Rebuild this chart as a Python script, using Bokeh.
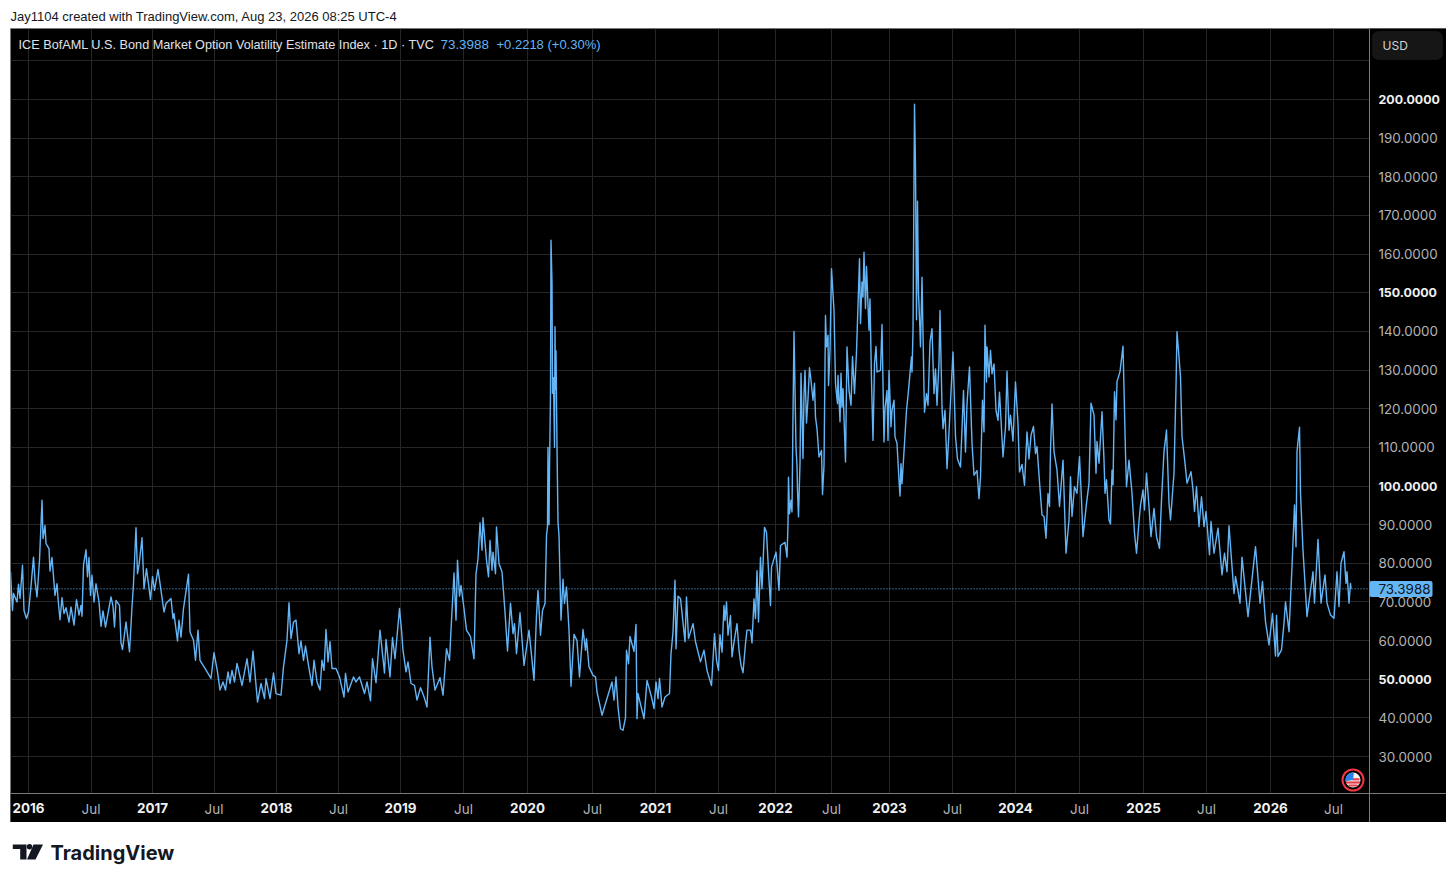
from bokeh.plotting import figure
from bokeh.layouts import column
from bokeh.models import (Range1d, FixedTicker, Span, Label, BoxAnnotation, LinearAxis,
                          PrintfTickFormatter)
from bokeh.core.properties import value
from bokeh.embed import file_html
from bokeh.resources import INLINE

# ---- data: bar number since the first session of 2016, and index level ----
bars_2016 = [-36,-32,-30,-23,-20,-17,-12,-9,-4,0,5,10,13,17,22,27,29,33,35,41,43,47,53,57,59,63,67,71,75,81,85,91,96,101,105,107,110,115,118,121,124,127,131,135,141,145,149,154,165,169,172,175,182,185,188,195,202,207,210,215,218,221,227,231,236,244,248]
vals_2016 = [77.8,67.8,72.2,70,74.6,70.9,79.5,67.8,65.7,67.4,74,81.6,75.6,71.3,80.8,96.3,86.4,89.8,85.1,83.8,78,81.5,71.7,74.7,70.9,65.4,71.1,67,68.5,64.8,68.7,64,70.6,66.6,69.1,66.3,79.5,83.5,76.5,81.5,71.7,76.9,70,74.7,70,63.7,67.7,63.5,71.3,68.9,63.5,70.4,69.1,59.4,57.7,64.8,57.1,68.7,74.7,89.2,77.3,79.5,86.6,73.4,78.6,70.6,76.6]
bars_2017 = [252,259,265,271,275,285,289,291,298,301,305,310,320,323,330,334,339,343,353,365,371,378,383,389,394,399,403,407,412,417,427,437,443,449,458,465,472,475,483,490,495]
vals_2017 = [73,78.4,73,67.4,69.6,70.9,65.7,67,59.9,65.3,60.9,68.3,77.2,62.2,60.1,54.9,62.7,54.9,52.8,50.2,56.9,51.9,47.2,49.3,47.2,51.9,48.9,52.3,49.3,54.1,48.4,55.3,49.3,57.3,44.1,48.9,45,50.2,45,51.6,46.3]
bars_2018 = [505,510,517,521,525,530,535,541,545,550,554,560,567,571,577,583,587,591,595,599,603,607,615,622,631,634,639,650,655,662,672,677,684,688,695,703,712,715,723,728,733,742]
vals_2018 = [45.9,53.2,60.1,69.8,60.5,64.8,65.3,56.6,59.9,54.9,58.6,53.6,48.4,54.9,49.3,47.2,54.9,52.3,62.9,54.5,59.7,52.8,52.8,50.6,45.4,51.5,46.7,50.6,49.3,50.6,46.3,49.3,44.4,55.3,49.1,62.7,51.6,60.3,50.6,60.8,55.3,68.3]
bars_2019 = [746,749,755,759,765,772,777,784,791,797,803,807,813,823,829,836,842,845,851,855,858,862,865,871,876,884,891,895,899,903,907,909,916,920,923,927,929,934,936,941,947,953,958,964,969,972,976,983,991]
vals_2019 = [62.7,57.5,51.9,54.5,48.9,48.4,44.6,47.8,45.5,42.8,60.9,53.2,47.2,50.4,45.9,57.9,54.9,62.7,77.5,65.3,80.8,71.5,74.3,68.3,62.7,61,55.3,77.3,81.2,90.5,83.4,91.8,80.8,76.5,85.9,78.2,82.9,77.3,89.4,79.9,77.8,67.4,57.3,69.7,61.8,64.4,56.6,67.2,53.6]
bars_2020 = [1001,1011,1016,1019,1024,1028,1033,1036,1038,1039,1041,1042,1044,1045,1047,1048,1050,1052,1053,1054,1055,1057,1059,1061,1065,1069,1072,1076,1081,1085,1091,1097,1102,1109,1114,1116,1121,1129,1134,1137,1147,1157,1167,1171,1175,1179,1184,1189,1194,1196,1200,1203,1211,1215,1217,1219,1231,1237,1246,1251]
vals_2020 = [62.7,49.7,66.6,73,61.4,67.8,69.6,87.2,89.5,110,90,104,124,163.6,152.5,124,128,110,141.2,125,135,110,90.7,87.2,65.3,75.9,69.6,73.9,62.7,48.2,61.6,60,50.6,62.9,57.5,60.5,53.2,51,50.6,46.7,40.7,45,49.3,44.6,50.6,42.8,37.2,36.8,40.1,57.5,54,61.1,57.2,64.2,39.8,46.3,39.8,49.7,45.4,42.4]
bars_2021 = [1255,1259,1262,1267,1273,1282,1285,1289,1293,1295,1299,1304,1313,1316,1320,1329,1334,1344,1351,1357,1366,1372,1376,1380,1383,1387,1391,1393,1396,1399,1404,1407,1411,1417,1421,1425,1429,1434,1437,1444,1447,1451,1454,1457,1460,1464,1467,1472,1476,1481,1484,1486,1495,1501,1504,1513,1517]
vals_2021 = [49.3,45,50.2,42.8,45.4,46.3,56.6,62.2,75.6,57.9,71.5,70.9,59.7,71.3,60.5,64.4,59.7,54.5,57.5,52.3,48.4,61.8,54.9,52.3,61.5,57,69.1,65.2,70,61.4,66.5,55.8,59.6,64.4,57.5,53.6,51.7,59.2,62.7,62.7,59.4,70.8,65.7,78.1,64.8,81.6,73.4,89.3,88,75.6,69.1,79,82.9,73,84.6,85.4,81.6]
bars_2022 = [1519,1520,1522,1525,1527,1529,1531,1535,1537,1538,1540,1543,1545,1549,1551,1553,1556,1559,1562,1565,1569,1572,1574,1577,1581,1586,1588,1591,1594,1596,1599,1600,1603,1606,1609,1611,1614,1618,1619,1623,1625,1627,1629,1634,1637,1641,1645,1648,1652,1656,1660,1662,1664,1667,1669,1671,1674,1676,1681,1683,1686,1689,1692,1695,1697,1704,1707,1711,1713,1717,1719,1721,1725,1727,1731,1733,1737,1741,1743,1745,1747,1752,1756,1759,1766,1767]
vals_2022 = [90.3,102.3,92.8,96.3,93.3,118.3,140,110,105.3,98.9,92,105.8,129.2,107.1,123.9,129.9,116.3,122.6,130.6,127.3,122.2,126.6,117.8,114.8,107.5,109.2,97.8,105.3,144.1,136,139,126,135,156.2,149.7,145.4,126.5,121.3,128.6,116.6,129.2,120.4,125.2,106.2,136,124.7,120.9,133.5,123.9,134.7,150.6,158.8,142,152.8,148.9,160.5,145.9,156.8,140.3,148.4,127.3,111.8,131.6,136.1,129.5,129.9,141.8,111.4,120,124.7,111.8,129.9,115.3,119.6,122.2,112.7,111,101.5,97.4,105.8,100.6,111,119.6,123.4,133.4,129.5]
bars_2023 = [1769,1772,1774,1776,1778,1780,1783,1784,1787,1791,1792,1796,1799,1803,1807,1811,1814,1817,1821,1823,1827,1829,1833,1837,1841,1849,1854,1858,1864,1870,1874,1877,1882,1887,1891,1897,1901,1904,1908,1911,1913,1916,1917,1921,1924,1927,1931,1935,1939,1942,1949,1954,1957,1961,1964,1969,1974,1979,1982,1987,1992,1997,2001,2005,2010,2014,2017,2023,2027,2031,2035,2039,2042,2044,2047,2051,2057,2062,2069,2075,2081,2084,2087,2092,2097,2102,2106]
vals_2023 = [140,198.8,182.6,143,173.7,150,140,136,154,125,119.1,123.9,120.9,137.2,140.7,123.9,130.3,120.9,132.1,145.4,120.4,114.8,119.6,104.5,114,134.7,112.7,107,104.9,124.7,108.8,121.3,130.8,111,102.8,104,96.7,102.3,122.2,114,141.6,126.9,136,128.2,135.1,129,131.6,119.6,117,124.3,107.5,115.3,129.7,114.4,118.3,111.6,126.9,116.1,103.6,105.6,100.2,114,107,113.1,115.4,108.4,110.2,99.3,92.5,92.1,86.5,98.1,94.7,109.3,121.2,108.9,104.1,94.7,106.7,82.6,91.2,102.4,92.1,99.8,98.1,107.6,96.4]
bars_2024 = [2109,2116,2121,2125,2131,2135,2137,2141,2147,2151,2153,2156,2161,2164,2167,2169,2172,2175,2177,2183,2189,2194,2196,2201,2207,2212,2216,2221,2224,2229,2232,2236,2241,2245,2251,2256,2262,2266,2271,2276,2281,2284,2291,2295,2297,2304,2307,2313,2317,2325,2329,2332,2336,2341,2346,2351,2355,2362,2365,2371,2379,2387,2392,2397,2401,2411,2414,2423,2427,2439,2454,2463,2468,2474,2481,2488,2494,2496,2499,2506,2511,2514,2521,2527,2532,2535,2537,2542,2544,2549,2557,2569,2572,2579,2585,2593,2597,2604,2611,2617,2621,2625,2631,2635,2637,2641,2644,2645]
vals_2024 = [86.9,95.5,100.7,121.4,118.4,103.3,111.5,105.9,119.2,106.7,98.1,101.6,91.2,90.2,104.1,100.3,124.4,117.1,127,129.6,136.2,108.4,99.8,106.7,98.1,87.8,82.6,90.8,95,99,93.8,103.3,94.7,86.9,94.2,86.9,83.9,96.4,108.9,114.5,95.5,91.2,103.3,125.7,139.9,128.3,112.8,105.9,100.7,103.7,99,93.4,99.8,89.5,97.2,89.5,93.4,82.2,90.8,82.6,89.1,77,82.6,77.8,89.7,72.2,76.6,69.7,81.6,66.2,84.3,69.7,75.3,64.9,58.9,67,56,66.6,55.9,57.6,64.5,70,62.3,79.1,95.1,84.3,108.9,115.2,98.1,83.4,66.2,77.8,69.7,86.2,69.7,77,69.7,66.6,65.8,77.8,68.8,80,83,74.8,77.8,69.7,74.8,73.4]

year_ticks = [0, 248, 496, 744, 998, 1254, 1494, 1722, 1974, 2230, 2484]
year_labels = ["2016", "2017", "2018", "2019", "2020", "2021", "2022", "2023", "2024", "2025", "2026"]
jul_ticks = [125, 371, 620, 870, 1128, 1380, 1606, 1848, 2102, 2356, 2610]
jul_labels = ["Jul"] * 11
price_ticks = [30, 40, 60, 70, 80, 90, 110, 120, 130, 140, 160, 170, 180, 190]
bold_prices = [50, 100, 150, 200]
grid_only_prices = [210]
last_value = 73.3988

header = "Jay1104 created with TradingView.com, Aug 23, 2026 08:25 UTC-4"
legend_name = "ICE BofAML U.S. Bond Market Option Volatility Estimate Index · 1D · TVC"
legend_last = "73.3988"
legend_change = "+0.2218 (+0.30%)"

BLUE = "#64b5f6"
FONT = "Inter"
SANS = "Liberation Sans"
GREY = "#b4b4b4"
WHITE = "#f0f0f0"
EDGE = "#7a7a7a"

bars, vals = [], []
for b, v in [(bars_2016, vals_2016), (bars_2017, vals_2017), (bars_2018, vals_2018), (bars_2019, vals_2019),
             (bars_2020, vals_2020), (bars_2021, vals_2021), (bars_2022, vals_2022), (bars_2023, vals_2023),
             (bars_2024, vals_2024)]:
    assert len(b) == len(v), (b[0], len(b), len(v))
    bars += b
    vals += v


# page pixels -> chart coordinates, used only to place furniture
def X(px):
    return 2 * (px - 28)


def Y(py):
    return 200 - (py - 99) / 3.865


# ---- top strip ----
top = figure(width=1448, height=28, output_backend="svg", toolbar_location=None,
             x_range=Range1d(0, 1448), y_range=Range1d(28, 0), x_axis_type=None, y_axis_type=None,
             min_border=0, outline_line_color=None, background_fill_color="#ffffff", border_fill_color="#ffffff")
top.grid.visible = False
top.text([10], [16], text=[header], text_font=value(SANS), text_font_size="13px", text_color="#131722",
         text_baseline="middle")

# ---- main chart ----
p = figure(width=1436, height=794, output_backend="svg", toolbar_location=None, margin=(0, 0, 0, 10),
           x_range=Range1d(X(10), X(1446)), y_range=Range1d(Y(822), Y(28)),
           y_axis_location="right", min_border=0,
           background_fill_color="#000000", border_fill_color="#000000")
p.outline_line_color = EDGE

all_x = sorted(year_ticks + jul_ticks)
p.xgrid.ticker = FixedTicker(ticks=all_x)
p.ygrid.ticker = FixedTicker(ticks=sorted(price_ticks + bold_prices + grid_only_prices))
p.xgrid.grid_line_color = "#262626"
p.ygrid.grid_line_color = "#262626"

p.add_layout(Span(location=last_value, dimension="width", line_color=BLUE, line_width=1,
                  line_dash="1 2", level="underlay"))
p.line(bars, vals, line_color=BLUE, line_width=1.4, line_join="round")

# black bands that carry the axes
p.quad(left=[X(1369), X(10)], right=[X(1446), X(1369)], top=[Y(28), Y(793)], bottom=[Y(822), Y(822)],
       fill_color="#000000", line_color=None)


def style(ax, color, bold, standoff, size):
    ax.major_label_text_color = color
    ax.major_label_text_font = FONT
    ax.major_label_text_font_size = size
    ax.major_label_text_font_style = "bold" if bold else "normal"
    ax.major_label_standoff = standoff
    ax.major_tick_line_color = None
    ax.minor_tick_line_color = None
    ax.major_tick_in = 0
    ax.major_tick_out = 0
    ax.minor_tick_in = 0
    ax.minor_tick_out = 0


xa = p.xaxis[0]
xa.fixed_location = Y(793)
xa.ticker = FixedTicker(ticks=jul_ticks)
xa.major_label_overrides = dict(zip(jul_ticks, jul_labels))
xa.axis_line_color = EDGE
style(xa, GREY, False, 7, "13.4px")

xb = LinearAxis(fixed_location=Y(793), ticker=FixedTicker(ticks=year_ticks),
                major_label_overrides=dict(zip(year_ticks, year_labels)), axis_line_color=None)
style(xb, WHITE, True, 9, "13.4px")
p.add_layout(xb, "below")

ya = p.yaxis[0]
ya.fixed_location = X(1369)
ya.ticker = FixedTicker(ticks=price_ticks)
ya.formatter = PrintfTickFormatter(format="%.4f")
ya.axis_line_color = EDGE
style(ya, GREY, False, 9, "13.4px")

yb = LinearAxis(fixed_location=X(1369), ticker=FixedTicker(ticks=bold_prices),
                formatter=PrintfTickFormatter(format="%.4f"), axis_line_color=None)
style(yb, WHITE, True, 9, "12.4px")
p.add_layout(yb, "right")

# legend line
p.add_layout(Label(x=X(18), y=Y(44), text=legend_name, text_align="left", text_baseline="middle",
                   text_color="#e0e3eb", text_font=SANS, text_font_size="12.7px"))
p.add_layout(Label(x=X(440), y=Y(44), text=legend_last, text_align="left", text_baseline="middle",
                   text_color=BLUE, text_font=SANS, text_font_size="13.4px"))
p.add_layout(Label(x=X(496), y=Y(44), text=legend_change, text_align="left", text_baseline="middle",
                   text_color=BLUE, text_font=SANS, text_font_size="13px"))

# last value tag
p.add_layout(BoxAnnotation(left=X(1369), right=X(1432), top=Y(580.5), bottom=Y(596.5), fill_color=BLUE, fill_alpha=1,
                           line_color=None, border_radius=2, editable=False))
p.add_layout(Label(x=X(1378), y=last_value, text=f"{last_value:.4f}", text_align="left", text_baseline="middle",
                   text_color="#0d1620", text_font=FONT, text_font_size="13.4px"))

# currency button
p.add_layout(BoxAnnotation(left=X(1372), right=X(1442), top=Y(31), bottom=Y(59), fill_color="#161616", fill_alpha=1,
                           line_color="#2c2c2c", border_radius=6, editable=False))
p.add_layout(Label(x=X(1382), y=Y(44.5), text="USD", text_align="left", text_baseline="middle",
                   text_color="#d4d4d4", text_font=FONT, text_font_size="12px"))

# flag badge
fx, fy = X(1352.5), Y(779.5)
p.scatter([fx], [fy], size=21, marker="circle", fill_color="#000000", line_color="#f23645", line_width=2)
p.scatter([fx], [fy], size=15, marker="circle", fill_color="#f4f4f4", line_color=None)
p.rect([fx, fx, X(1355.5)], [Y(782), Y(785), Y(778.8)], width=[14, 9, 7], height=[2.2, 2, 2.2],
       width_units="screen", height_units="screen", fill_color="#e5404a", line_color=None)
p.wedge([fx], [fy], radius=7.5, radius_units="screen", start_angle=1.45, end_angle=3.3,
        fill_color="#2f7fe8", line_color=None)

# ---- bottom strip with the wordmark ----
bot = figure(width=1448, height=55, output_backend="svg", toolbar_location=None,
             x_range=Range1d(0, 1448), y_range=Range1d(877, 822), x_axis_type=None, y_axis_type=None,
             min_border=0, outline_line_color=None, background_fill_color="#ffffff", border_fill_color="#ffffff")
bot.grid.visible = False
bot.patches(xs=[[12.3, 26, 26, 19.7, 19.7, 12.3], [33, 42.5, 35, 26.5]],
            ys=[[844, 844, 859, 859, 848.5, 848.5], [844, 844, 859, 859]],
            fill_color="#131722", line_color=None)
bot.scatter([29], [846.3], size=5.5, marker="circle", fill_color="#131722", line_color=None)
bot.text([50], [852], text=["TradingView"], text_font=value(FONT), text_font_size="20px", text_font_style="bold",
         text_color="#131722", text_baseline="middle")

layout = column(top, p, bot, spacing=0)
open("out.html", "w").write(file_html(layout, INLINE))
